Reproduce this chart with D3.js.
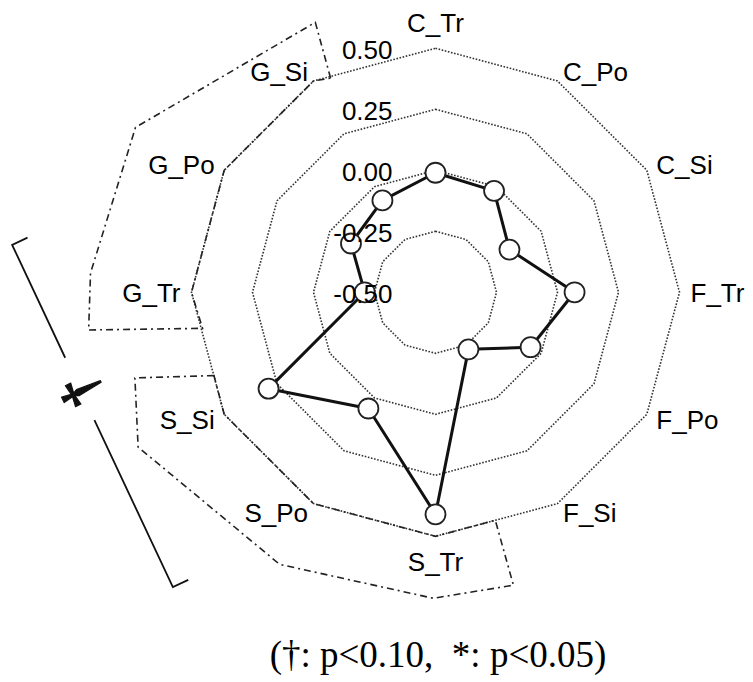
<!DOCTYPE html>
<html>
<head>
<meta charset="utf-8">
<script src="https://cdn.jsdelivr.net/npm/d3@7"></script>
<style>
  html, body { margin: 0; padding: 0; background: #fff; }
  svg { display: block; }
</style>
</head>
<body>
<svg id="chart" width="753" height="682"></svg>
<script>
// ---- data ----
const axes = ["C_Tr","C_Po","C_Si","F_Tr","F_Po","F_Si","S_Tr","S_Po","S_Si","G_Tr","G_Po","G_Si"];
const values = [-0.01, -0.02, -0.15, 0.07, -0.05, -0.23, 0.41, 0.05, 0.29, -0.21, -0.10, -0.065];
const gridLevels = [-0.25, 0, 0.25, 0.5];
const tickValues = [0.5, 0.25, 0, -0.25, -0.5];
const tickLabels = ["0.50", "0.25", "0.00", "-0.25", "-0.50"];
// significance regions, as [angle in degrees, value] on the radial scale
const sigRegionG = [[333.9,0.477],[336,0.711],[298.8,0.903],[273.2,0.916],[263.8,0.93],[261.2,0.466],[270,0.5],[300,0.5],[330,0.5]];
const sigRegionS = [[249.4,0.47],[254.1,0.781],[242.5,0.874],[209.8,0.785],[180.4,0.754],[165.1,0.742],[165.3,0.466],[180,0.5],[210,0.5],[240,0.5]];
// bracket between groups, ends as [angle, value]
const bracketEnds = [[276.4, 1.246], [221.7, 1.118]];
const bracketGap = [0.33, 0.512];
const bracketMarkPos = 0.428;
const bracketMark = "\u2020";
const legendText = "(\u2020: p<0.10,  *: p<0.05)";

// ---- layout ----
const W = 753, H = 682;
const cx = 435.5, cy = 292.3;
const R = 244;
const svg = d3.select("#chart");
const g = svg.append("g").attr("transform", `translate(${cx},${cy})`);

const rScale = d3.scaleLinear().domain([-0.5, 0.5]).range([0, R]);
const angle = d3.scaleLinear().domain([0, axes.length]).range([0, 2 * Math.PI]);
const rad = d => d * Math.PI / 180;
const pol = (deg, v) => [rScale(v) * Math.sin(rad(deg)), -rScale(v) * Math.cos(rad(deg))];

const sansFont = "'Liberation Sans', Arial, Helvetica, sans-serif";
const serifFont = "'Liberation Serif', 'Times New Roman', serif";

// grid polygons
const gridLine = d3.lineRadial()
  .angle((d, i) => angle(i))
  .radius(d => rScale(d))
  .curve(d3.curveLinearClosed);

g.selectAll(".grid")
  .data(gridLevels)
  .join("path")
  .attr("class", "grid")
  .attr("d", lv => gridLine(axes.map(() => lv)))
  .attr("fill", "none")
  .attr("stroke", "#333")
  .attr("stroke-width", 1.6)
  .attr("stroke-dasharray", "1.6,1.6");

// significance regions (dash-dot)
const regionLine = d3.lineRadial()
  .angle(d => rad(d[0]))
  .radius(d => rScale(d[1]))
  .curve(d3.curveLinearClosed);

g.selectAll(".sig")
  .data([sigRegionG, sigRegionS])
  .join("path")
  .attr("class", "sig")
  .attr("d", regionLine)
  .attr("fill", "none")
  .attr("stroke", "#222")
  .attr("stroke-width", 1.6)
  .attr("stroke-dasharray", "7,4,2,4");

// bracket
const p0 = pol(...bracketEnds[0]), p1 = pol(...bracketEnds[1]);
const lerp = t => [p0[0] + (p1[0] - p0[0]) * t, p0[1] + (p1[1] - p0[1]) * t];
const len = Math.hypot(p1[0] - p0[0], p1[1] - p0[1]);
const dir = [(p1[0] - p0[0]) / len, (p1[1] - p0[1]) / len];
const perp = [-dir[1], dir[0]];
const perpR = perp[0] > 0 ? perp : [-perp[0], -perp[1]];
const tickLen = 17;
const ga = lerp(bracketGap[0]), gb = lerp(bracketGap[1]);
const bracketPaths = [
  [[p0[0] + perpR[0] * tickLen, p0[1] + perpR[1] * tickLen], p0, ga],
  [gb, p1, [p1[0] + perpR[0] * tickLen, p1[1] + perpR[1] * tickLen]]
];
g.selectAll(".bracket")
  .data(bracketPaths)
  .join("path")
  .attr("class", "bracket")
  .attr("d", d3.line())
  .attr("fill", "none")
  .attr("stroke", "#111")
  .attr("stroke-width", 1.8);

const mp = lerp(bracketMarkPos);
const markPos = [mp[0] - perpR[0] * 9, mp[1] - perpR[1] * 9];
g.append("text")
  .attr("transform", `translate(${markPos[0]},${markPos[1]}) rotate(-116)`)
  .attr("x", 0)
  .attr("y", 25)
  .attr("text-anchor", "middle")
  .attr("font-family", serifFont)
  .attr("font-weight", "bold")
  .attr("font-size", 52)
  .attr("fill", "#111")
  .attr("stroke", "#111")
  .attr("stroke-width", 1.2)
  .attr("stroke-linejoin", "round")
  .text(bracketMark);

// data line
const dataLine = d3.lineRadial()
  .angle((d, i) => angle(i))
  .radius(d => rScale(d))
  .curve(d3.curveLinearClosed);

g.append("path")
  .attr("d", dataLine(values))
  .attr("fill", "none")
  .attr("stroke", "#111")
  .attr("stroke-width", 3)
  .attr("stroke-linejoin", "round");

g.selectAll(".pt")
  .data(values)
  .join("circle")
  .attr("class", "pt")
  .attr("cx", (d, i) => rScale(d) * Math.sin(angle(i)))
  .attr("cy", (d, i) => -rScale(d) * Math.cos(angle(i)))
  .attr("r", 10)
  .attr("fill", "#fff")
  .attr("stroke", "#222")
  .attr("stroke-width", 1.8);

// tick labels
g.selectAll(".tick")
  .data(tickValues)
  .join("text")
  .attr("class", "tick")
  .attr("x", -43)
  .attr("y", d => -rScale(d) + 1)
  .attr("dy", "0.36em")
  .attr("text-anchor", "end")
  .attr("font-family", sansFont)
  .attr("font-size", 26)
  .attr("fill", "#000")
  .text((d, i) => tickLabels[i]);

// axis labels
const labelR = rScale(0.5) + 11;
g.selectAll(".axlab")
  .data(axes)
  .join("text")
  .attr("class", "axlab")
  .each(function (d, i) {
    const a = angle(i);
    const s = Math.sin(a), c = Math.cos(a);
    let x = labelR * s, y = -labelR * c;
    let anchor = "start";
    if (Math.abs(s) < 1e-6) {
      anchor = "middle";
      y += (c > 0 ? -15 : 14);
    } else if (s < 0) {
      anchor = "end";
    }
    d3.select(this)
      .attr("x", x)
      .attr("y", y)
      .attr("dy", "0.36em")
      .attr("text-anchor", anchor);
  })
  .attr("font-family", sansFont)
  .attr("font-size", 26)
  .attr("fill", "#000")
  .text(d => d);

// legend note
svg.append("text")
  .attr("x", 438)
  .attr("y", 667)
  .attr("text-anchor", "middle")
  .attr("font-family", serifFont)
  .attr("font-size", 37)
  .attr("fill", "#000")
  .attr("xml:space", "preserve")
  .style("white-space", "pre")
  .text(legendText);
</script>
</body>
</html>
